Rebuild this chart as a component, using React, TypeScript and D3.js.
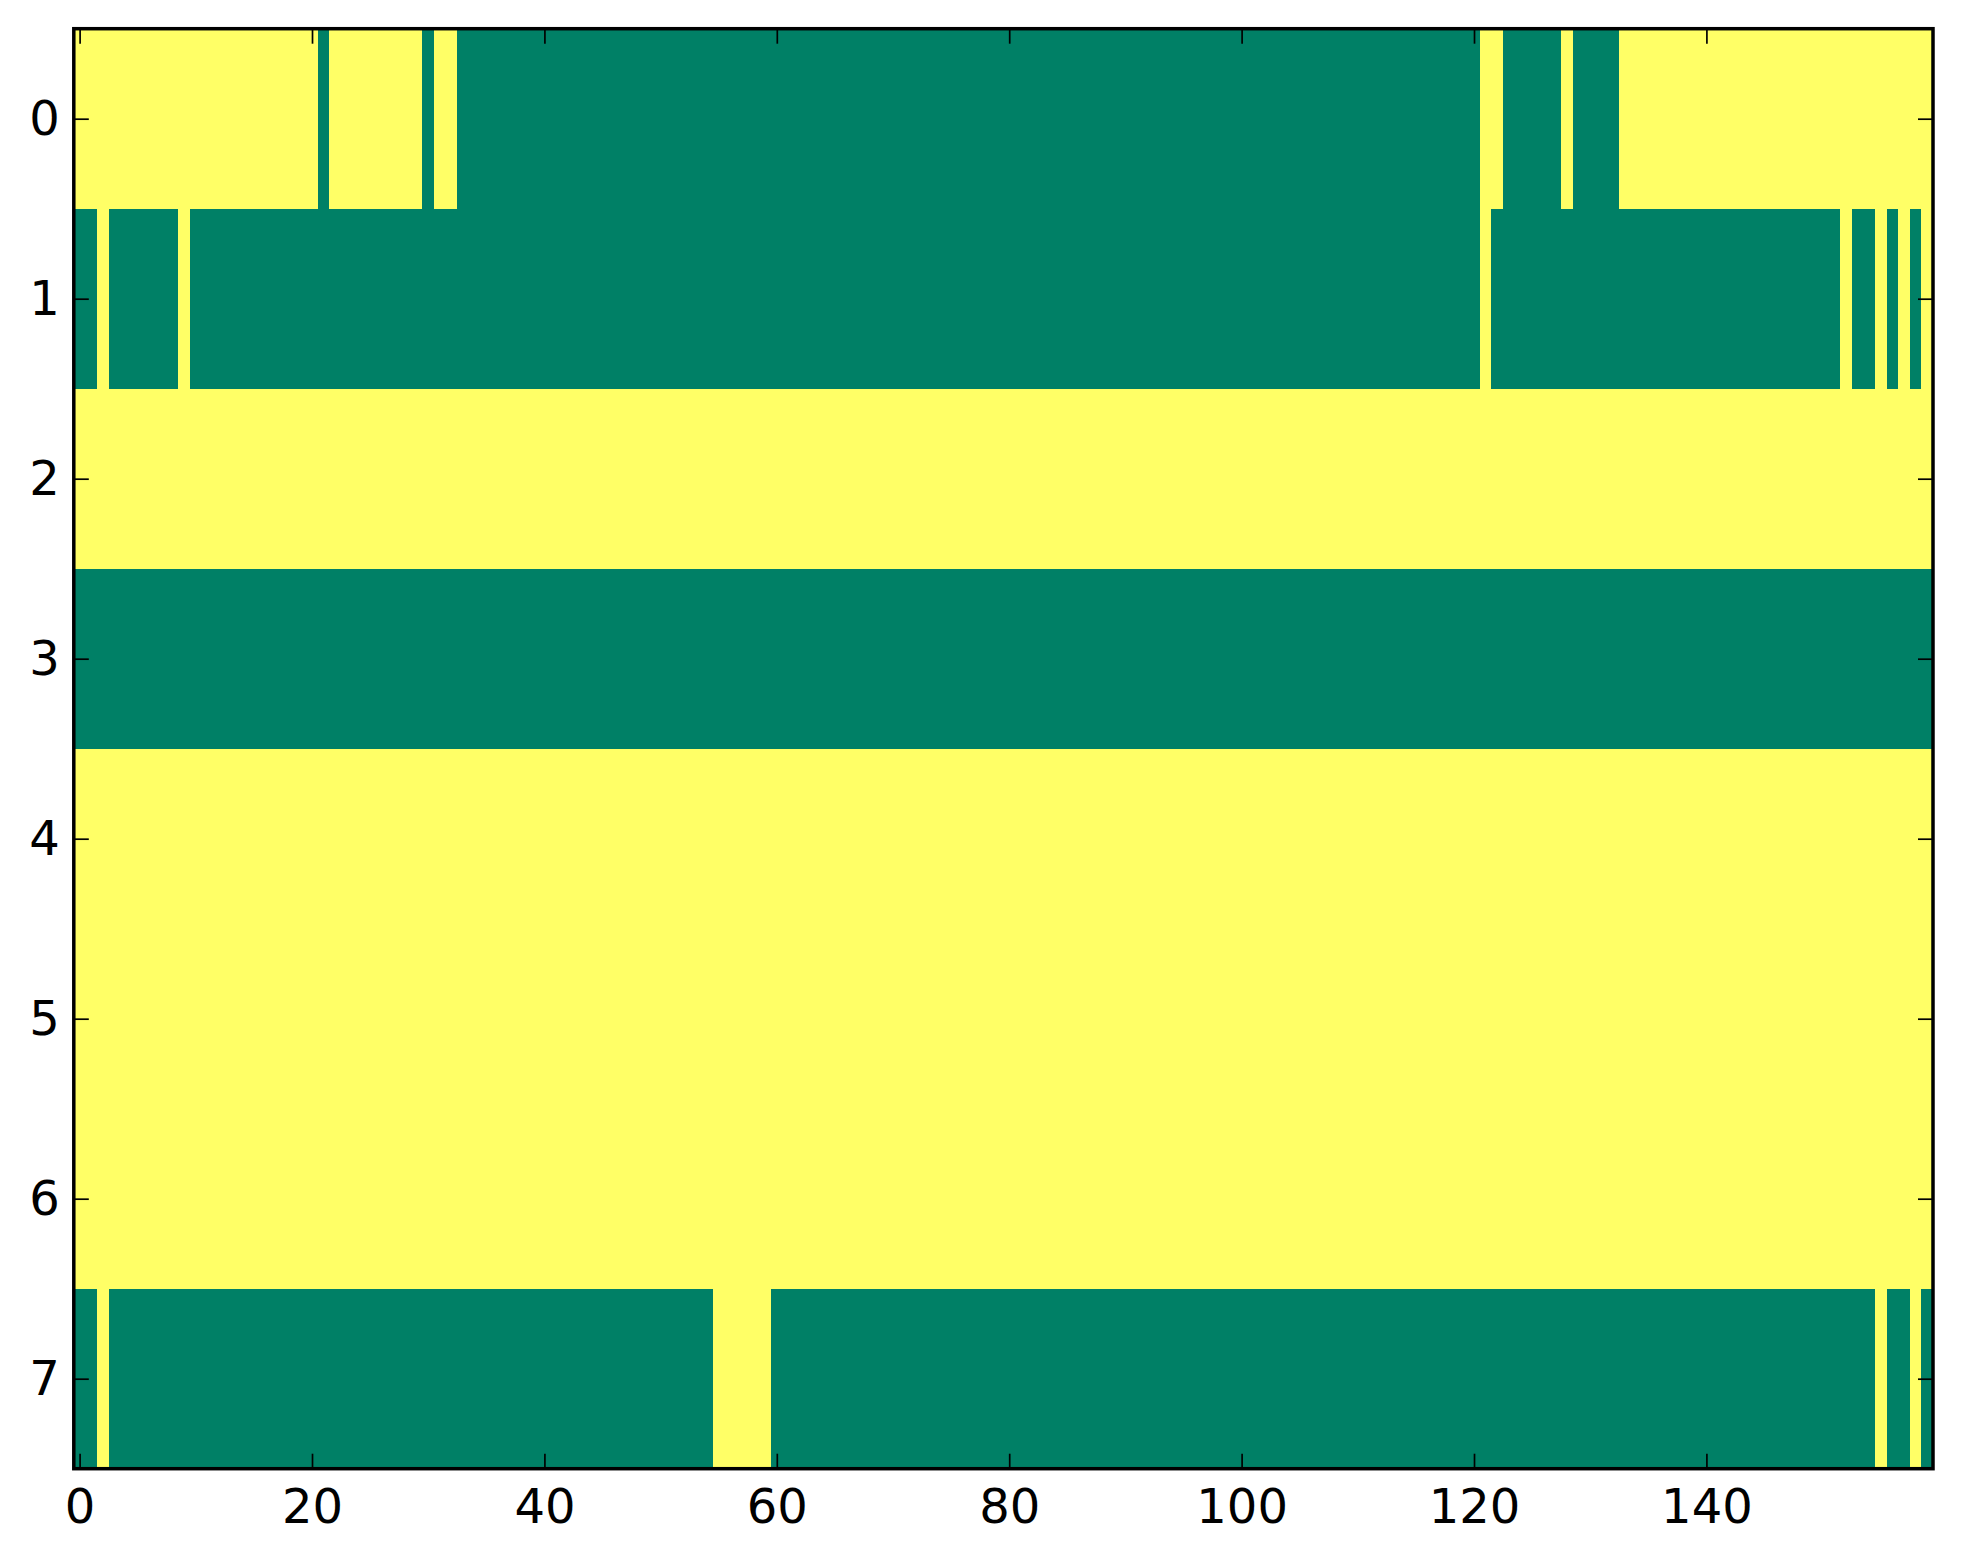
import React, { useRef, useEffect } from 'react';
import * as d3 from 'd3';

// 每行的游程数据: [值, 长度]，1 = 黄色 (高), 0 = 绿色 (低)
const row0: [number, number][] = [[1, 21], [0, 1], [1, 8], [0, 1], [1, 2], [0, 88], [1, 2], [0, 5], [1, 1], [0, 4], [1, 27]];
const row1: [number, number][] = [[0, 2], [1, 1], [0, 6], [1, 1], [0, 111], [1, 1], [0, 30], [1, 1], [0, 2], [1, 1], [0, 1], [1, 1], [0, 1], [1, 1]];
const row2: [number, number][] = [[1, 160]];
const row3: [number, number][] = [[0, 160]];
const row4: [number, number][] = [[1, 160]];
const row5: [number, number][] = [[1, 160]];
const row6: [number, number][] = [[1, 160]];
const row7: [number, number][] = [[0, 2], [1, 1], [0, 52], [1, 5], [0, 95], [1, 1], [0, 2], [1, 1], [0, 1]];

const rows = [row0, row1, row2, row3, row4, row5, row6, row7];
const nCols = 160;

const xTicks = [0, 20, 40, 60, 80, 100, 120, 140];
const yTicks = [0, 1, 2, 3, 4, 5, 6, 7];

interface Run {
  row: number;
  start: number;
  end: number;
  value: number;
}

const App: React.FC = () => {
  const svgRef = useRef<SVGSVGElement>(null);

  const width = 1963;
  const height = 1564;
  const marginTop = 28.7;
  const marginBottom = height - 1468.7;
  const marginLeft = 73.8;
  const marginRight = width - 1933;

  const x = d3.scaleLinear()
    .domain([-0.5, nCols - 0.5])
    .range([marginLeft, width - marginRight]);

  const y = d3.scaleLinear()
    .domain([-0.5, rows.length - 0.5])
    .range([marginTop, height - marginBottom]);

  // summer 色图的两端
  const color = d3.scaleOrdinal<number, string>()
    .domain([0, 1])
    .range(['#008066', '#ffff66']);

  useEffect(() => {
    if (!svgRef.current) return;
    const svg = d3.select(svgRef.current);
    svg.selectAll('*').remove();

    // 游程展开成矩形
    const runs: Run[] = [];
    rows.forEach((r, ri) => {
      let c = 0;
      r.forEach(([v, n]) => {
        runs.push({ row: ri, start: c, end: c + n - 1, value: v });
        c += n;
      });
    });

    svg.append('g')
      .selectAll('rect')
      .data(runs)
      .join('rect')
      .attr('x', (d) => x(d.start - 0.5))
      .attr('y', (d) => y(d.row - 0.5))
      .attr('width', (d) => x(d.end + 0.5) - x(d.start - 0.5))
      .attr('height', (d) => y(d.row + 0.5) - y(d.row - 0.5))
      .attr('fill', (d) => color(d.value))
      .attr('shape-rendering', 'crispEdges');

    const tickLen = 15;
    const font = 'DejaVu Sans';
    const fontSize = 48;

    const styleAxis = (g: d3.Selection<SVGGElement, unknown, null, undefined>) => {
      g.select('.domain').remove();
      g.selectAll('.tick line').attr('stroke', '#000').attr('stroke-width', 1.7);
      g.selectAll('.tick text')
        .attr('fill', '#000')
        .style('font-family', font)
        .style('font-size', `${fontSize}px`);
    };

    // 下轴
    svg.append('g')
      .attr('transform', `translate(0,${height - marginBottom})`)
      .call(d3.axisBottom(x).tickValues(xTicks).tickSize(-tickLen).tickPadding(20).tickFormat(d3.format('d')))
      .call(styleAxis);

    // 上轴（只有刻度）
    svg.append('g')
      .attr('transform', `translate(0,${marginTop})`)
      .call(d3.axisTop(x).tickValues(xTicks).tickSize(-tickLen).tickFormat(() => ''))
      .call(styleAxis);

    // 左轴
    svg.append('g')
      .attr('transform', `translate(${marginLeft},0)`)
      .call(d3.axisLeft(y).tickValues(yTicks).tickSize(-tickLen).tickPadding(14).tickFormat(d3.format('d')))
      .call(styleAxis);

    // 右轴（只有刻度）
    svg.append('g')
      .attr('transform', `translate(${width - marginRight},0)`)
      .call(d3.axisRight(y).tickValues(yTicks).tickSize(-tickLen).tickFormat(() => ''))
      .call(styleAxis);

    // 边框
    svg.append('rect')
      .attr('x', marginLeft)
      .attr('y', marginTop)
      .attr('width', width - marginLeft - marginRight)
      .attr('height', height - marginTop - marginBottom)
      .attr('fill', 'none')
      .attr('stroke', '#000')
      .attr('stroke-width', 3.5);
  }, []);

  return (
    <svg
      ref={svgRef}
      width={width}
      height={height}
      style={{ position: 'absolute', left: 0, top: 0, background: '#fff' }}
    />
  );
};

export default App;
